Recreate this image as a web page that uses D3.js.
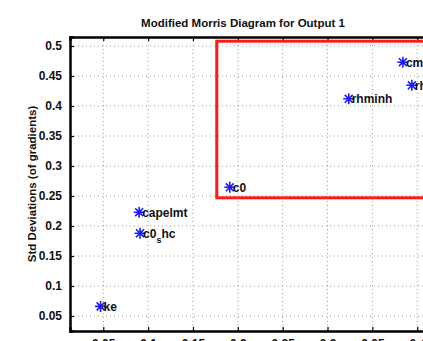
<!DOCTYPE html>
<html>
<head>
<meta charset="utf-8">
<script src="https://cdn.jsdelivr.net/npm/d3@7"></script>
<style>
  body { margin: 0; background: #fff; }
  svg { display: block; font-family: "Liberation Sans", Arial, sans-serif; }
</style>
</head>
<body>
<div id="chart"></div>
<script>
// parameter names, mean of |gradient| and std of gradients
const names  = ["ke", "c0_s hc", "capelmt", "c0", "rhminh", "cmftau", "rhminl"];
const means  = [0.047, 0.091, 0.090, 0.191, 0.3236, 0.384, 0.394];
const stds   = [0.066, 0.188, 0.223, 0.2645, 0.412, 0.473, 0.4345];

const xTicks = [0.05, 0.1, 0.15, 0.2, 0.25, 0.3, 0.35, 0.4, 0.45];
const yTicks = [0.05, 0.1, 0.15, 0.2, 0.25, 0.3, 0.35, 0.4, 0.45, 0.5];

// highlighted region (x0, y0, x1, y1)
const boxX = [0.1765, 0.47];
const boxY = [0.247, 0.508];

const W = 423, H = 341;
const mLeft = 70, mTop = 37, mBottom = 331;

const x = d3.scaleLinear().domain([0.0129, 0.44]).range([mLeft, mLeft + (0.44 - 0.0129) * 897]);
const y = d3.scaleLinear().domain([0.025, 0.515]).range([mBottom, mTop]);
const mRight = x.range()[1];

const svg = d3.select("#chart").append("svg")
    .attr("width", W)
    .attr("height", H);

// grid
const grid = svg.append("g")
    .attr("stroke", "#9a9a9a")
    .attr("stroke-width", 1)
    .attr("stroke-dasharray", "1,3");
grid.selectAll(".gx")
    .data(xTicks)
    .enter()
    .append("line")
    .attr("x1", d => x(d)).attr("x2", d => x(d))
    .attr("y1", mTop).attr("y2", mBottom);
grid.selectAll(".gy")
    .data(yTicks)
    .enter()
    .append("line")
    .attr("x1", mLeft).attr("x2", mRight)
    .attr("y1", d => y(d)).attr("y2", d => y(d));

// axes box
const fmt = d => String(+d.toFixed(2));

const xAxisB = d3.axisBottom(x).tickValues(xTicks).tickSize(-4).tickPadding(8).tickFormat(fmt);
const xAxisT = d3.axisTop(x).tickValues(xTicks).tickSize(-4).tickFormat("");
const yAxisL = d3.axisLeft(y).tickValues(yTicks).tickSize(-4).tickPadding(8).tickFormat(fmt);

svg.append("g").attr("transform", `translate(0,${mBottom})`).call(xAxisB);
svg.append("g").attr("transform", `translate(0,${mTop})`).call(xAxisT);
svg.append("g").attr("transform", `translate(${mLeft},0)`).call(yAxisL);

svg.selectAll(".domain")
    .attr("stroke", "#000")
    .attr("stroke-width", 2.5);
svg.selectAll(".tick line")
    .attr("stroke", "#000")
    .attr("stroke-width", 1.2);
svg.selectAll(".tick text")
    .attr("fill", "#111")
    .style("font-size", "12px")
    .style("font-weight", "bold");

// red region
svg.append("rect")
    .attr("x", x(boxX[0]))
    .attr("y", y(boxY[1]))
    .attr("width", x(boxX[1]) - x(boxX[0]))
    .attr("height", y(boxY[0]) - y(boxY[1]))
    .attr("fill", "none")
    .attr("stroke", "#ff1a1a")
    .attr("stroke-width", 3);

// star markers
const pts = names.map((n, i) => ({ name: n, mx: means[i], sy: stds[i] }));
const r = 5.5;
const star = `M${-r},0L${r},0M0,${-r}L0,${r}` +
    `M${-r * 0.72},${-r * 0.72}L${r * 0.72},${r * 0.72}M${-r * 0.72},${r * 0.72}L${r * 0.72},${-r * 0.72}`;

svg.selectAll(".pt")
    .data(pts)
    .enter()
    .append("path")
    .attr("class", "pt")
    .attr("transform", d => `translate(${x(d.mx)},${y(d.sy)})`)
    .attr("d", star)
    .attr("stroke", "#1a1aff")
    .attr("stroke-width", 1.6)
    .attr("fill", "none");

const labels = svg.selectAll(".lab")
    .data(pts)
    .enter()
    .append("text")
    .attr("class", "lab")
    .attr("x", d => x(d.mx) + 3)
    .attr("y", d => y(d.sy) + 4.5)
    .attr("fill", "#111")
    .style("font-size", "12px")
    .style("font-weight", "bold");

labels.each(function (d) {
    const t = d3.select(this);
    if (d.name === "c0_s hc") {
        t.append("tspan").text("c0");
        t.append("tspan").attr("dy", 5).style("font-size", "9px").text("s");
        t.append("tspan").attr("dy", -5).text("hc");
    } else {
        t.text(d.name);
    }
});

// title and y label
svg.append("text")
    .attr("x", 243)
    .attr("y", 27)
    .attr("text-anchor", "middle")
    .attr("fill", "#111")
    .style("font-size", "11.5px")
    .style("font-weight", "bold")
    .text("Modified Morris Diagram for Output 1");

svg.append("text")
    .attr("transform", `translate(36,${(mTop + mBottom) / 2}) rotate(-90)`)
    .attr("text-anchor", "middle")
    .attr("fill", "#111")
    .style("font-size", "11.5px")
    .style("font-weight", "bold")
    .text("Std Deviations (of gradients)");
</script>
</body>
</html>
